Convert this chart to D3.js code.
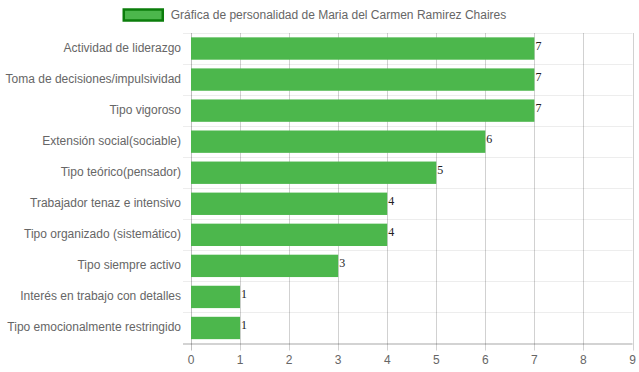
<!DOCTYPE html>
<html>
<head>
<meta charset="utf-8">
<script src="https://cdn.jsdelivr.net/npm/d3@7"></script>
<style>
  body { margin: 0; background: #fff; }
  svg { display: block; }
</style>
</head>
<body>
<svg id="chart" width="639" height="372"></svg>
<script>
let categories = [
	"Actividad de liderazgo",
	"Toma de decisiones/impulsividad",
	"Tipo vigoroso",
	"Extensión social(sociable)",
	"Tipo teórico(pensador)",
	"Trabajador tenaz e intensivo",
	"Tipo organizado (sistemático)",
	"Tipo siempre activo",
	"Interés en trabajo con detalles",
	"Tipo emocionalmente restringido"
]
let values = [7, 7, 7, 6, 5, 4, 4, 3, 1, 1]
let xTicks = [0, 1, 2, 3, 4, 5, 6, 7, 8, 9]
let seriesName = "Gráfica de personalidad de Maria del Carmen Ramirez Chaires"

let svg = d3.select("#chart")
let font = "'Liberation Sans', Arial, Helvetica, sans-serif"

let margin = {top: 33, right: 6.5, bottom: 28.5, left: 191}
let width = 639 - margin.left - margin.right
let height = 372 - margin.top - margin.bottom

let xscale = d3.scaleLinear().domain([0, 9]).range([0, width])
let yscale = d3.scaleBand().domain(categories).range([0, height])
let barPad = yscale.bandwidth() * 0.14

let g = svg.append("g").attr("transform", "translate(" + margin.left + "," + margin.top + ")")

//horizontal grid lines (category boundaries)
let bounds = categories.map(c => yscale(c))
g.append("g").selectAll("line")
	.data(bounds)
	.enter().append("line")
	.attr("x1", -8).attr("x2", width)
	.attr("y1", d => Math.round(d) + 0.5).attr("y2", d => Math.round(d) + 0.5)
	.attr("stroke", "rgba(0,0,0,0.07)")

//vertical grid lines
g.append("g").selectAll("line")
	.data(xTicks)
	.enter().append("line")
	.attr("x1", d => Math.round(xscale(d)) + 0.5).attr("x2", d => Math.round(xscale(d)) + 0.5)
	.attr("y1", 0).attr("y2", height + 7)
	.attr("stroke", d => d === 0 ? "rgba(0,0,0,0.25)" : "rgba(0,0,0,0.18)")

//bars
g.append("g").selectAll("rect")
	.data(values)
	.enter().append("rect")
	.attr("x", xscale(0))
	.attr("y", (d, i) => yscale(categories[i]) + barPad)
	.attr("width", d => xscale(d) - xscale(0))
	.attr("height", yscale.bandwidth() - 2 * barPad)
	.attr("fill", "#4cb74c")

//value labels
g.append("g").selectAll("text")
	.data(values)
	.enter().append("text")
	.attr("x", d => xscale(d) + 1)
	.attr("y", (d, i) => yscale(categories[i]) + yscale.bandwidth() / 2 + 1)
	.attr("font-family", "'Liberation Serif', 'Times New Roman', serif")
	.attr("font-size", 12)
	.attr("fill", "#222")
	.text(d => d)

//x axis line
g.append("line")
	.attr("x1", -8).attr("x2", width)
	.attr("y1", height + 0.5).attr("y2", height + 0.5)
	.attr("stroke", "rgba(0,0,0,0.35)")

//x tick labels
g.append("g").selectAll("text")
	.data(xTicks)
	.enter().append("text")
	.attr("x", d => xscale(d))
	.attr("y", height + 20)
	.attr("text-anchor", "middle")
	.attr("font-family", font)
	.attr("font-size", 12)
	.attr("fill", "#666")
	.text(d => d)

//y category labels
g.append("g").selectAll("text")
	.data(categories)
	.enter().append("text")
	.attr("x", -10)
	.attr("y", d => yscale(d) + yscale.bandwidth() / 2 + 3)
	.attr("text-anchor", "end")
	.attr("font-family", font)
	.attr("font-size", 12)
	.attr("fill", "#666")
	.text(d => d)

//legend
let legend = svg.append("g")
let legendText = legend.append("text")
	.attr("y", 19)
	.attr("font-family", font)
	.attr("font-size", 12)
	.attr("fill", "#666")
	.text(seriesName)
let tw = legendText.node().getComputedTextLength()
let total = 40 + 8 + tw
let lx = (639 - total) / 2 - 5
legend.append("rect")
	.attr("x", lx + 1).attr("y", 9.5)
	.attr("width", 39).attr("height", 11)
	.attr("fill", "#4cb74c")
	.attr("stroke", "#0b7d0b")
	.attr("stroke-width", 2.5)
legendText.attr("x", lx + 48)
</script>
</body>
</html>
